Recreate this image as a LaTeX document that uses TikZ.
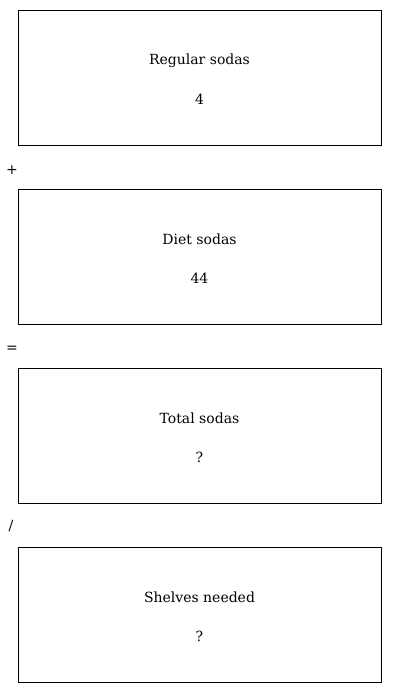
\documentclass[tikz,border=0pt]{standalone}
\usepackage{fontspec}
\setmainfont{DejaVu Serif}
\tikzset{
	sodabox/.style={draw,line width=0.8pt,minimum width=363pt,minimum height=135pt,inner sep=0pt},
	boxtext/.style={anchor=base,inner sep=0pt},
	optext/.style={inner sep=0pt}
}
\begin{document}
\begin{tikzpicture}[x=1pt,y=-1pt,font=\fontsize{14}{16}\selectfont]
		\useasboundingbox (0,0) rectangle (400,693);
		\node[sodabox] (regular) at (199.5,77.5) {};
		\node[boxtext] (regularlabel) at (199.5,65) {Regular sodas};
		\node[boxtext] (regularvalue) at (199.5,104) {4};
		\node[optext] (plus) at (12,170) {+};
		\node[sodabox] (diet) at (199.5,256.5) {};
		\node[boxtext] (dietlabel) at (199.5,244) {Diet sodas};
		\node[boxtext] (dietvalue) at (199.5,283) {44};
		\node[optext] (equals) at (12,349) {=};
		\node[sodabox] (total) at (199.5,435.5) {};
		\node[boxtext] (totallabel) at (199.5,423) {Total sodas};
		\node[boxtext] (totalvalue) at (199.5,462) {?};
		\node[optext] (divide) at (11,526) {/};
		\node[sodabox] (shelves) at (199.5,614.5) {};
		\node[boxtext] (shelveslabel) at (199.5,602) {Shelves needed};
		\node[boxtext] (shelvesvalue) at (199.5,641) {?};
		\end{tikzpicture}
\end{document}
